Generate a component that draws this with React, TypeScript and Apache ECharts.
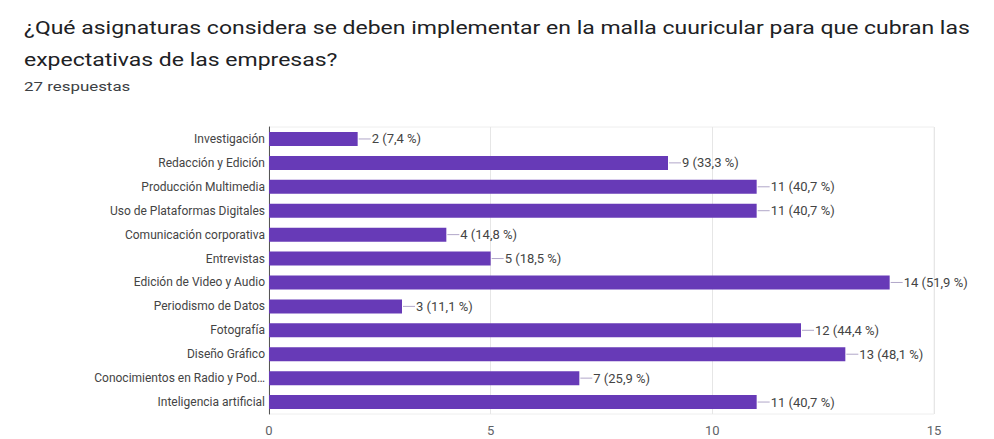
import React, { useEffect, useRef } from "react";
import * as echarts from "echarts";

const titleLine1 = "¿Qué asignaturas considera se deben implementar en la malla cuuricular para que cubran las";
const titleLine2 = "expectativas de las empresas?";
const subtitle = "27 respuestas";

const categories = [
  "Investigación",
  "Redacción y Edición",
  "Producción Multimedia",
  "Uso de Plataformas Digitales",
  "Comunicación corporativa",
  "Entrevistas",
  "Edición de Video y Audio",
  "Periodismo de Datos",
  "Fotografía",
  "Diseño Gráfico",
  "Conocimientos en Radio y Pod…",
  "Inteligencia artificial",
];
const counts = [2, 9, 11, 11, 4, 5, 14, 3, 12, 13, 7, 11];
const percents = ["7,4", "33,3", "40,7", "40,7", "14,8", "18,5", "51,9", "11,1", "44,4", "48,1", "25,9", "40,7"];
const xTicks = [0, 5, 10, 15];

export default function App() {
  const ref = useRef<HTMLDivElement>(null);
  useEffect(() => {
    if (!ref.current) return;
    const chart = echarts.init(ref.current, undefined, { renderer: "svg" });
    const font = "Roboto, Arial, sans-serif";
    chart.setOption({
      animation: false,
      backgroundColor: "#ffffff",
      textStyle: { fontFamily: font },
      graphic: [
        { type: "text", x: 24, y: 18, scaleX: 1.21, style: { text: titleLine1, font: `19px ${font}`, fill: "#202124" } },
        { type: "text", x: 24, y: 50, scaleX: 1.21, style: { text: titleLine2, font: `19px ${font}`, fill: "#202124" } },
        { type: "text", x: 24, y: 80, scaleX: 1.3, style: { text: subtitle, font: `13px ${font}`, fill: "#3c4043" } },
      ],
      grid: {
        left: 269,
        right: 60,
        top: 127,
        bottom: 25,
        show: true,
        borderColor: "#eeeeee",
        borderWidth: 1,
      },
      xAxis: {
        type: "value",
        min: 0,
        max: 15,
        interval: 5,
        axisLine: { show: false },
        axisTick: { show: false },
        splitLine: { lineStyle: { color: "#e6e6e6" } },
        axisLabel: {
          color: "#5f6368",
          fontSize: 13,
          margin: 10,
          formatter: (v: number) => (xTicks.includes(v) ? String(v) : ""),
        },
      },
      yAxis: {
        type: "category",
        data: categories,
        inverse: true,
        axisLine: { show: true, lineStyle: { color: "#555555", width: 1 } },
        axisTick: { show: false },
        axisLabel: { color: "#444444", fontSize: 12, margin: 4 },
      },
      series: [
        {
          type: "bar",
          data: counts,
          barWidth: 14,
          itemStyle: { color: "#673ab7" },
          label: {
            show: true,
            position: "right",
            distance: 1,
            color: "#444444",
            fontSize: 13,
            formatter: (p: any) => `{ln|}{t|${counts[p.dataIndex]} (${percents[p.dataIndex]} %)}`,
            rich: {
              ln: { width: 12, height: 1, backgroundColor: "#b0a6c8" },
              t: { color: "#444444", fontSize: 13, padding: [0, 0, 0, 1] },
            },
          },
        },
      ],
    });
    return () => chart.dispose();
  }, []);
  return <div ref={ref} style={{ position: "fixed", left: 0, top: 0, width: 994, height: 439 }} />;
}
